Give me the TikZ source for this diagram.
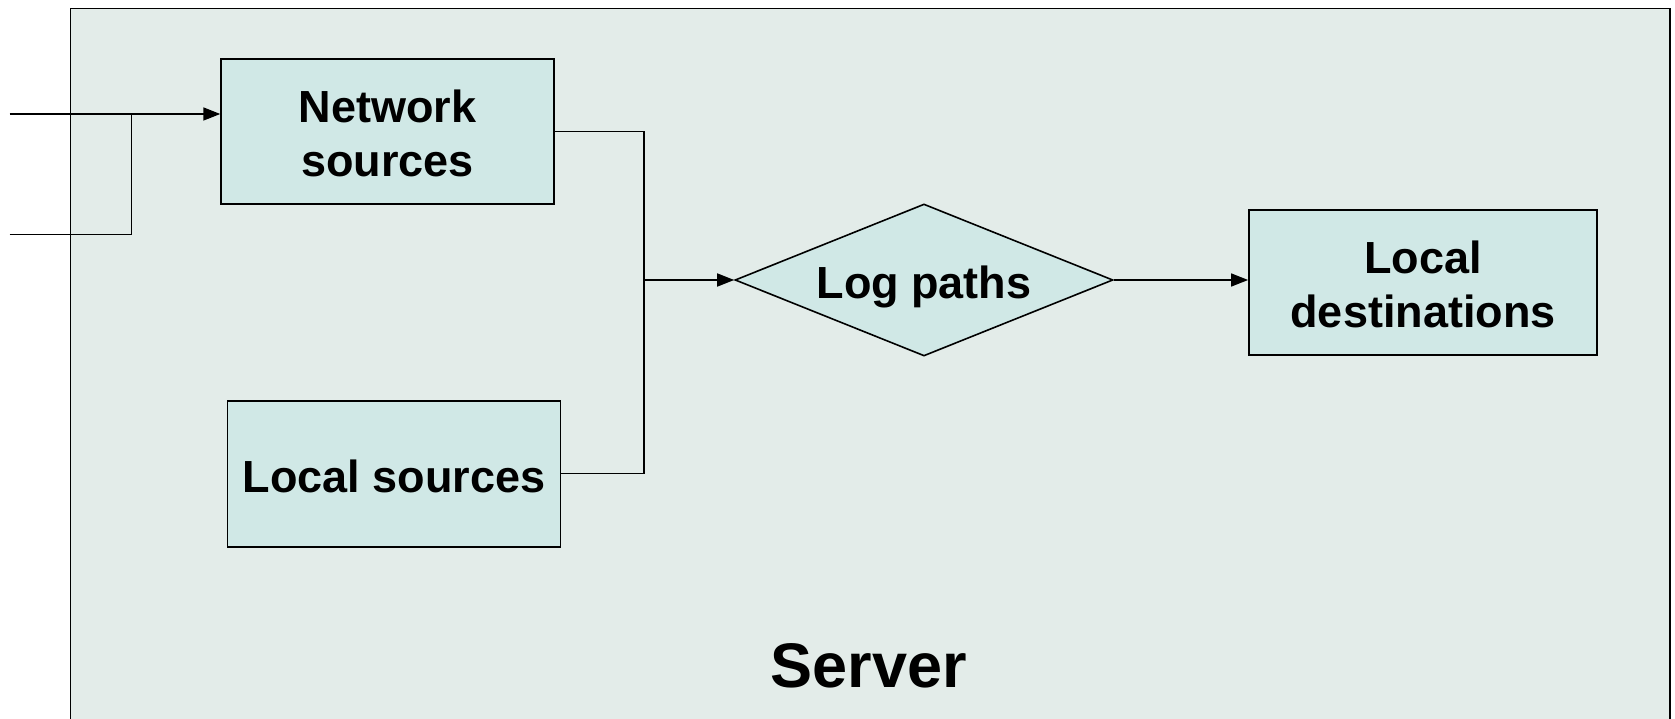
\documentclass[tikz,border=0pt]{standalone}
\usepackage{fontspec}
\setmainfont{Liberation Sans}
\usetikzlibrary{arrows.meta,shapes.geometric}
\definecolor{serverbg}{RGB}{227,236,233}
\definecolor{boxfill}{RGB}{208,232,230}
\tikzset{
  stagebox/.style={draw=black, line width=1.8pt, fill=boxfill, rectangle,
    inner sep=0pt, align=center, font=\fontsize{45}{54}\selectfont\bfseries},
  oneline/.style={text height=37pt, text depth=0pt},
  twoline/.style={text height=91pt, text depth=0pt},
  decide/.style={draw=black, line width=1.6pt, fill=boxfill, diamond,
    shape aspect=2.5, inner sep=0pt, text height=37pt, text depth=0pt,
    font=\fontsize{45}{54}\selectfont\bfseries},
  link/.style={draw=black, line width=1.6pt},
  flow/.style={link, -{Triangle[length=17pt,width=13pt]}},
}
\begin{document}
\begin{tikzpicture}[x=1pt,y=1pt]
\useasboundingbox (0,0) rectangle (1675,718);
\clip (0,0) rectangle (1675,718);
% server frame, running off the bottom edge
\draw[line width=1.6pt, fill=serverbg] (70.5,-20) rectangle (1670,709.5);
\node[font=\fontsize{63}{70}\selectfont\bfseries] (srv) at (869,52) {Server};

% stages
\node[stagebox, twoline, minimum width=333pt, minimum height=145pt] (net) at (387.7,586.6) {Network\\sources};
\node[stagebox, oneline, minimum width=333pt, minimum height=146pt] (loc) at (394,244.3) {Local sources};
\node[decide, minimum width=378pt, minimum height=152pt] (log) at (924,438) {Log paths};
\node[stagebox, twoline, minimum width=348pt, minimum height=145pt] (dest) at (1423,435.5) {Local\\destinations};

% incoming feeds
\coordinate (in1) at (9.6,604);
\coordinate (in2) at (9.6,483.5);
\coordinate (jn) at (131.3,604);
\draw[flow] (in1) -- (in1 -| net.west);
\draw[link] (in2) -| (jn);

% sources merge into the log path
\coordinate (j) at (644,438);
\draw[link] (net.east) -| (j);
\draw[link] (loc.east) -| (j);
\draw[flow] (j) -- (log.west);
\draw[flow] (log.east) -- (log.east -| dest.west);
\end{tikzpicture}
\end{document}
